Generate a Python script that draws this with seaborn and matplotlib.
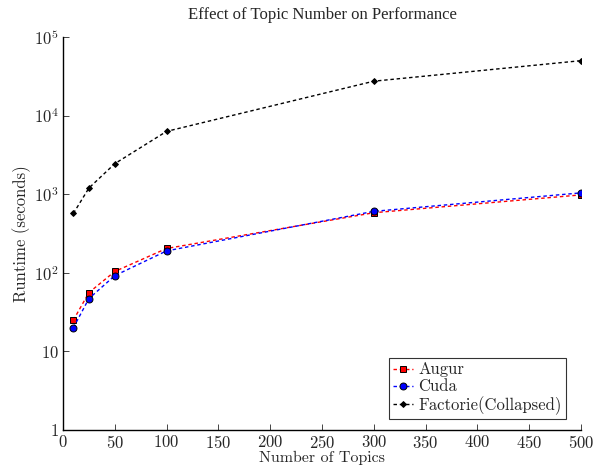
import matplotlib
matplotlib.use("Agg")
import numpy as np
import pandas as pd
import seaborn as sns
import matplotlib.pyplot as plt
from matplotlib.ticker import FixedLocator, FixedFormatter

# values
topics = [10, 25, 50, 100, 300, 500]
augur = [25, 56, 104, 204, 581, 980]
cuda = [20, 47, 92, 190, 605, 1040]
factorie = [569, 1197, 2447, 6300, 27400, 50000]

x_ticks = [0, 50, 100, 150, 200, 250, 300, 350, 400, 450, 500]
y_ticks = [1, 10, 100, 1000, 10000, 100000]
y_labels = ["$1$", "$10$", "$10^{2}$", "$10^{3}$", "$10^{4}$", "$10^{5}$"]

sns.set_style("ticks")
plt.rcParams["mathtext.fontset"] = "cm"
plt.rcParams["font.family"] = ["cmr10", "DejaVu Serif"]
plt.rcParams["axes.unicode_minus"] = False

fig = plt.figure(figsize=(6.01, 4.68), dpi=100)
ax = fig.add_axes([63 / 601, 1 - 430 / 468, (581 - 63) / 601, (430 - 37) / 468])

series = [
    ("Augur", augur, "red", "s", 5),
    ("Cuda", cuda, "blue", "o", 5),
    ("Factorie(Collapsed)", factorie, "black", "D", 3),
]
for name, vals, col, mk, ms in series:
    df = pd.DataFrame({"topics": topics, "runtime": vals})
    sns.lineplot(data=df, x="topics", y="runtime", ax=ax, color=col, lw=1,
                 marker=mk, markersize=ms, markerfacecolor=col,
                 markeredgecolor="black", markeredgewidth=0.7,
                 dashes=False, label=name)
    ax.lines[-1].set_dashes((2.5, 2.0))

ax.set_yscale("log")
ax.set_xlim(0, 500)
ax.set_ylim(1, 100000)
ax.xaxis.set_major_locator(FixedLocator(x_ticks))
ax.set_xticklabels(["$%d$" % t for t in x_ticks])
ax.yaxis.set_major_locator(FixedLocator(y_ticks))
ax.yaxis.set_major_formatter(FixedFormatter(y_labels))
ax.yaxis.set_minor_locator(FixedLocator([]))
ax.tick_params(axis="both", direction="in", length=4, width=0.6,
               labelsize=12, pad=3)

sns.despine(ax=ax)
for s in ["left", "bottom"]:
    ax.spines[s].set_linewidth(1.0)
    ax.spines[s].set_color("black")

ax.set_xlabel("Number of Topics", fontsize=11.5, labelpad=0)
ax.set_ylabel("Runtime (seconds)", fontsize=12, labelpad=2)
ax.set_title("Effect of Topic Number on Performance", fontsize=12,
             family=["Liberation Serif", "DejaVu Serif"], pad=13)

leg = ax.legend(loc="lower right", bbox_to_anchor=(0.971, 0.028),
                fontsize=12, frameon=True, fancybox=False, handlelength=1.2,
                handletextpad=0.3, borderpad=0.25, labelspacing=0.1,
                borderaxespad=0)
leg.get_frame().set_edgecolor("black")
leg.get_frame().set_linewidth(0.8)

fig.savefig("out.png", dpi=100)
